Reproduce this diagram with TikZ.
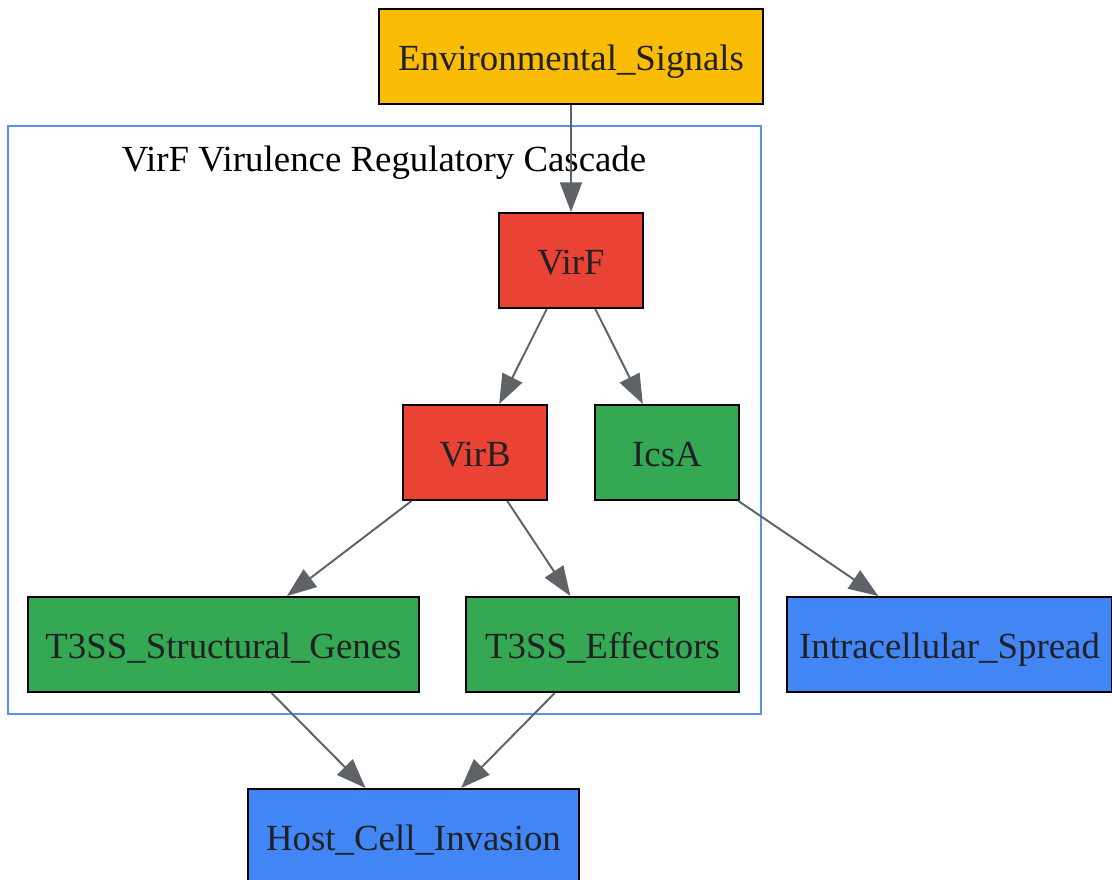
\documentclass[tikz,border=0pt]{standalone}
\usepackage{fontspec}
\setmainfont{Liberation Serif}
\usetikzlibrary{positioning,arrows.meta}
\definecolor{sigorange}{HTML}{FBBC05}
\definecolor{regred}{HTML}{EA4335}
\definecolor{genegreen}{HTML}{34A853}
\definecolor{outblue}{HTML}{4285F4}
\definecolor{edgegray}{HTML}{5F6368}
\definecolor{txtgray}{HTML}{202124}
\definecolor{clusterblue}{HTML}{5B8FF0}

\begin{document}
\begin{tikzpicture}[x=0.025cm, y=-0.025cm]

% Styles
\tikzset{
    labeltext/.style={font=\fontsize{26.2}{30}\selectfont, text height=23.6pt, text depth=4.2pt},
    boxstyle/.style={rectangle, draw=black, line width=1.4pt, minimum height=95*0.025cm, inner sep=0pt, text=txtgray, labeltext},
    signal/.style={boxstyle, fill=sigorange},
    regulator/.style={boxstyle, fill=regred, minimum width=144*0.025cm},
    gene/.style={boxstyle, fill=genegreen},
    outcome/.style={boxstyle, fill=outblue},
    arrow/.style={-{Triangle[length=21pt, width=15.6pt]}, line width=1.4pt, edgegray}
}

\useasboundingbox (0,0) rectangle (1112,880);

% Cluster
\node[draw=clusterblue, line width=1.4pt, minimum width=753*0.025cm, minimum height=588*0.025cm, inner sep=0pt] (cascade) at (384.5, 420) {};
\node[labeltext, inner sep=0pt] (cascadelabel) at (384, 158) {VirF Virulence Regulatory Cascade};

% Signal
\node[signal, minimum width=384*0.025cm] (env) at (571, 56.5) {Environmental\_Signals};

% Regulators
\node[regulator] (virf) at (571, 260.5) {VirF};
\node[regulator] (virb) at (475, 452.5) {VirB};

% Genes
\node[gene, minimum width=144*0.025cm] (icsa) at (667, 452.5) {IcsA};
\node[gene, minimum width=391*0.025cm] (t3struct) at (223.5, 644.5) {T3SS\_Structural\_Genes};
\node[gene, minimum width=273*0.025cm] (t3eff) at (602.5, 644.5) {T3SS\_Effectors};

% Outcomes
\node[outcome, minimum width=325*0.025cm] (spread) at (949.5, 644.5) {Intracellular\_Spread};
\node[outcome, minimum width=331*0.025cm] (invasion) at (413.5, 836.5) {Host\_Cell\_Invasion};

% Arrows
\draw[arrow] (env) -- (virf);
\draw[arrow] (virf) -- (virb);
\draw[arrow] (virf) -- (icsa);
\draw[arrow] (virb) -- (t3struct);
\draw[arrow] (virb) -- (t3eff);
\draw[arrow] (icsa) -- (spread);
\foreach \g in {t3struct,t3eff} {
    \draw[arrow] (\g) -- (invasion);
}

\end{tikzpicture}
\end{document}
